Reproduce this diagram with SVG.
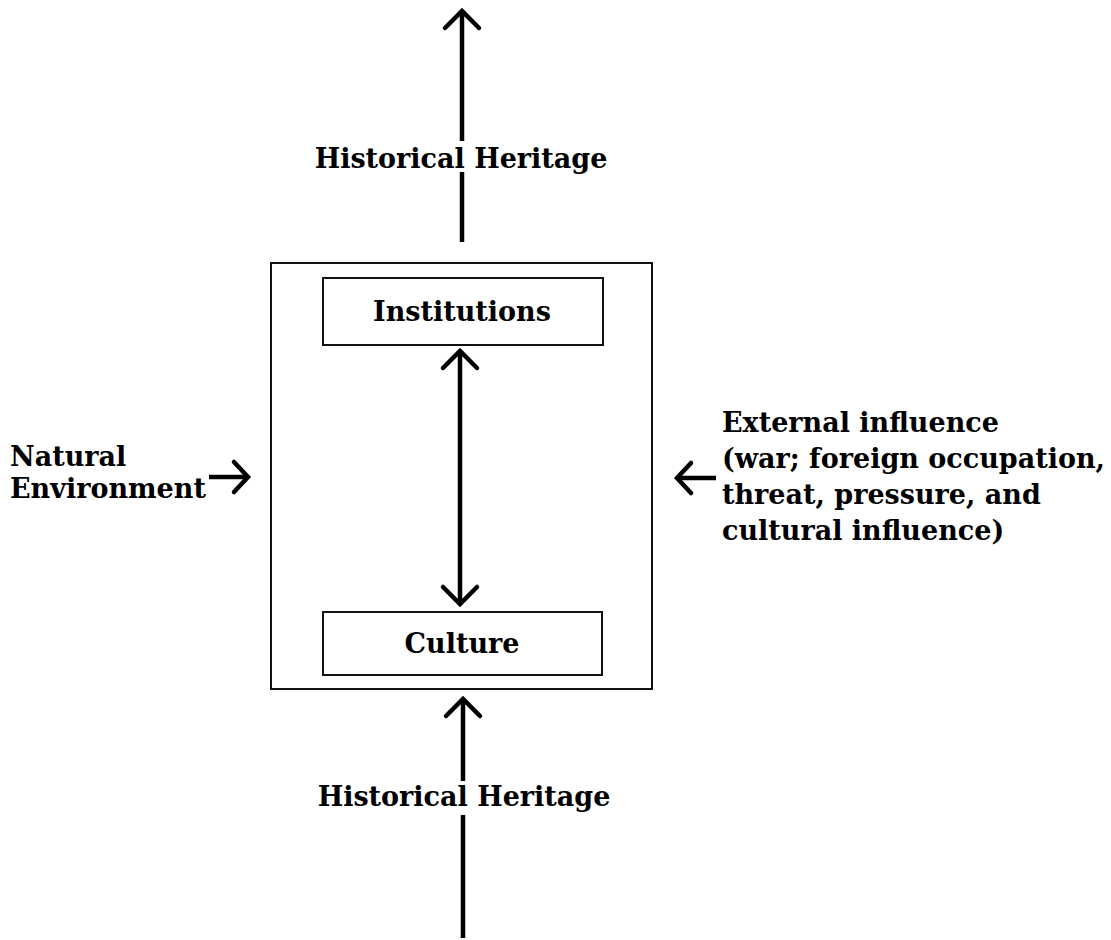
<svg xmlns="http://www.w3.org/2000/svg" width="1111" height="940" viewBox="0 0 1111 940">
<style>
text{font-family:"DejaVu Serif","Liberation Serif",serif;font-weight:bold;fill:#000;font-size:27px}
.box{fill:none;stroke:#111;stroke-width:2}
.arr{fill:none;stroke:#000;stroke-width:4.5}
</style>
<defs>
<marker id="ah" viewBox="-24 -24 30 48" refX="0" refY="0" markerWidth="30" markerHeight="48" markerUnits="userSpaceOnUse" orient="auto-start-reverse" overflow="visible">
<path d="M-17,-17 L0,0 L-17,17" fill="none" stroke="#000" stroke-width="4.5" stroke-linecap="round"/>
</marker>
<marker id="ahs" viewBox="-20 -20 26 40" refX="0" refY="0" markerWidth="26" markerHeight="40" markerUnits="userSpaceOnUse" orient="auto-start-reverse" overflow="visible">
<path d="M-14,-15 L0,0 L-14,15" fill="none" stroke="#000" stroke-width="4.5" stroke-linecap="round"/>
</marker>
</defs>
<rect width="1111" height="940" fill="#fff"/>
<g id="system">
<rect class="box" x="271" y="263" width="381" height="426"/>
</g>
<g id="institutions">
<rect class="box" x="323" y="278" width="280" height="67"/>
<text x="462" y="321" text-anchor="middle">Institutions</text>
</g>
<g id="culture">
<rect class="box" x="323" y="612" width="279" height="63"/>
<text x="462" y="653" text-anchor="middle">Culture</text>
</g>
<g id="heritage-top">
<text x="461" y="168" text-anchor="middle">Historical Heritage</text>
</g>
<g id="heritage-bottom">
<text x="464" y="806" text-anchor="middle">Historical Heritage</text>
</g>
<g id="natural-environment">
<text x="10" y="466">Natural</text>
<text x="10" y="498">Environment</text>
</g>
<g id="external-influence">
<text x="722" y="432">External influence</text>
<text x="722" y="468">(war; foreign occupation,</text>
<text x="722" y="504">threat, pressure, and</text>
<text x="722" y="540">cultural influence)</text>
</g>
<g id="connectors">
<line class="arr" x1="462" y1="242" x2="462" y2="172"/>
<line class="arr" x1="462" y1="141" x2="462" y2="11" marker-end="url(#ah)"/>
<line class="arr" x1="460" y1="351" x2="460" y2="604" marker-start="url(#ah)" marker-end="url(#ah)"/>
<line class="arr" x1="463" y1="938" x2="463" y2="815"/>
<line class="arr" x1="463" y1="781" x2="463" y2="699" marker-end="url(#ah)"/>
<line class="arr" x1="209" y1="477" x2="248" y2="477" marker-end="url(#ahs)"/>
<line class="arr" x1="716" y1="478" x2="677" y2="478" marker-end="url(#ahs)"/>
</g>
</svg>
